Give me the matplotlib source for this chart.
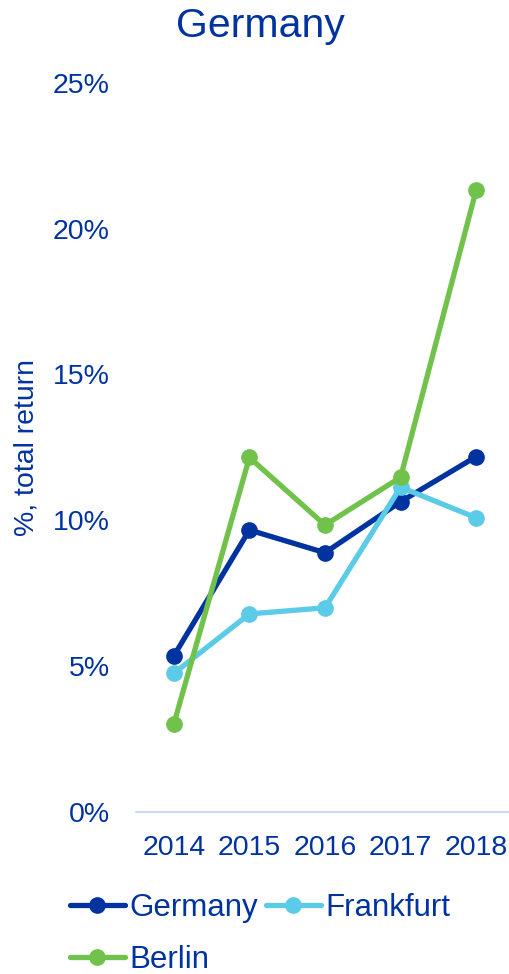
import matplotlib.pyplot as plt
from matplotlib.ticker import FuncFormatter

plt.rcParams["font.family"] = ["Liberation Sans", "DejaVu Sans"]

years = ["2014", "2015", "2016", "2017", "2018"]
germany = [5.34, 9.66, 8.88, 10.63, 12.18]
frankfurt = [4.74, 6.78, 6.99, 11.13, 10.08]
berlin = [3.0, 12.15, 9.83, 11.47, 21.33]

DARK = "#0033a0"
series = [
    ("Germany", germany, "#0033a0"),
    ("Frankfurt", frankfurt, "#5bcbe8"),
    ("Berlin", berlin, "#70c24a"),
]

fig = plt.figure(figsize=(5.10, 9.74), dpi=100)
ax = fig.add_axes([136 / 510, 162.5 / 974, 378 / 510, 728.5 / 974])

x = list(range(len(years)))
lines = {}
for name, vals, color in series:
    lines[name], = ax.plot(x, vals, color=color, linewidth=3.8, marker="o",
                           markersize=11, label=name, solid_capstyle="round")

ax.set_xlim(-0.5, 4.5)
ax.set_ylim(0, 25)
ax.set_xticks(x)
ax.set_xticklabels(years)
ax.set_yticks([0, 5, 10, 15, 20, 25])
ax.yaxis.set_major_formatter(FuncFormatter(lambda v, p: f"{v:.0f}%"))

for s in ["top", "right", "left"]:
    ax.spines[s].set_visible(False)
ax.spines["bottom"].set_color("#c5d3f2")
ax.spines["bottom"].set_linewidth(1.2)
ax.spines["bottom"].set_clip_on(False)

ax.tick_params(axis="both", length=0, labelsize=20.5, colors=DARK)
ax.tick_params(axis="y", pad=19)
ax.tick_params(axis="x", pad=17)

fig.text(0.51, 1 - 26 / 974, "Germany", ha="center", va="center",
         fontsize=29.5, color=DARK)
fig.text(27 / 510, 1 - 448 / 974, "%, total return", ha="center", va="center",
         rotation=90, fontsize=20.5, color=DARK)

# column-major fill: Germany / Berlin in col 1, Frankfurt in col 2
order = ["Germany", "Berlin", "Frankfurt"]
leg = fig.legend([lines[n] for n in order], order,
                 loc="upper left", bbox_to_anchor=(70 / 510, 1 - 893 / 974),
                 ncol=2, frameon=False, fontsize=22.5, handlelength=1.75,
                 handletextpad=0.16, columnspacing=0.25, labelspacing=0.7,
                 borderaxespad=0, borderpad=0)
for t in leg.get_texts():
    t.set_color(DARK)

fig.savefig("out.png", dpi=100)
plt.close(fig)
